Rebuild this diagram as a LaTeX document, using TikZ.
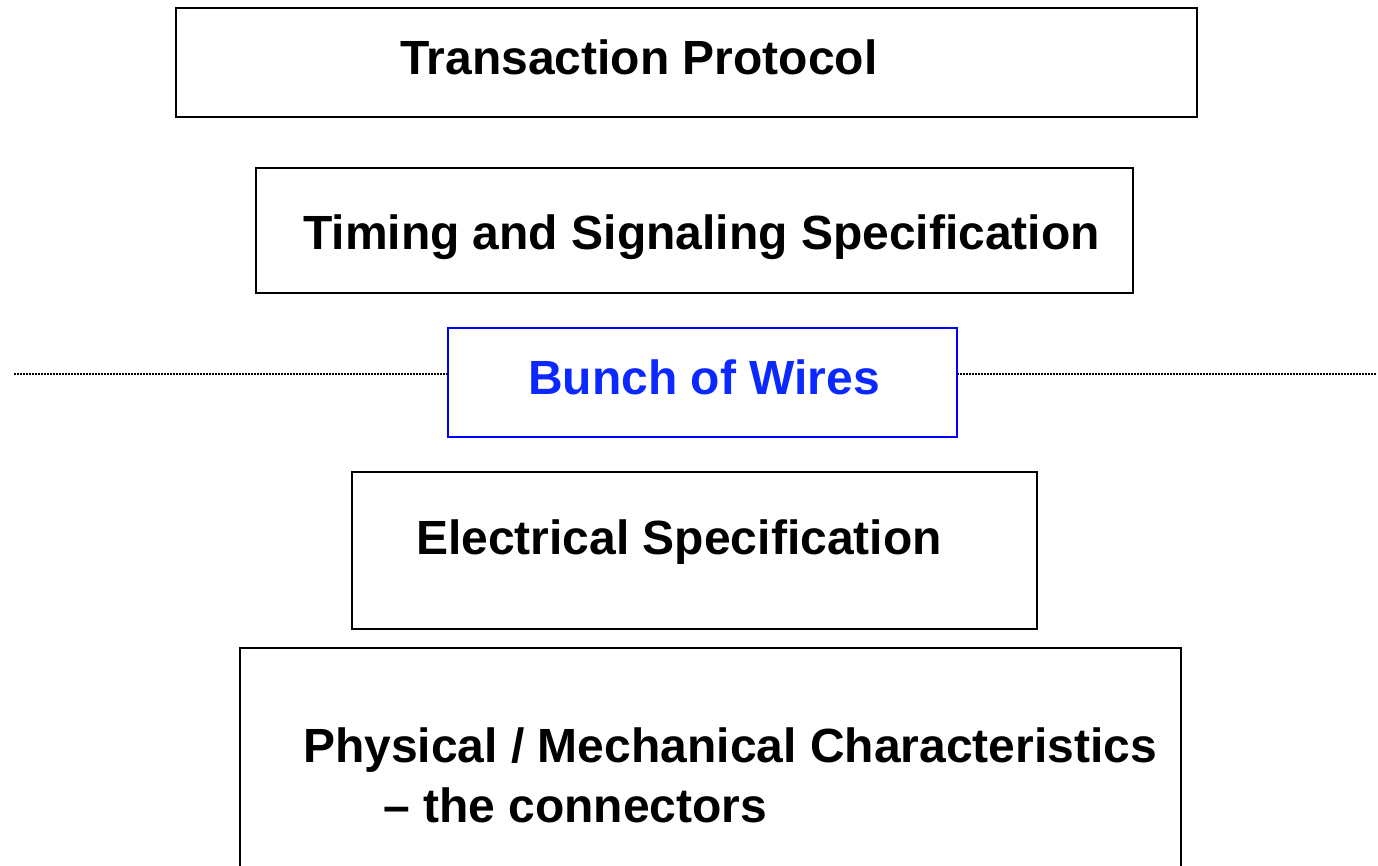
\documentclass[tikz,border=0pt]{standalone}
\usepackage{fontspec}
\setmainfont{Liberation Sans}
\definecolor{wireblue}{RGB}{10,40,255}
\tikzset{
  layerbox/.style={draw,line width=2pt,inner sep=0pt,outer sep=0pt},
  layertext/.style={anchor=base west,inner sep=0pt,font=\fontsize{48}{58}\selectfont\bfseries},
  cut/.style={line width=2pt,dash pattern=on 1.6pt off 1.4pt}
}
\begin{document}
\begin{tikzpicture}[x=1pt,y=-1pt]
  \useasboundingbox (0,0) rectangle (1378,866);
  \clip (0,0) rectangle (1378,866);
  % layers, top to bottom
  \node[layerbox,minimum width=1021pt,minimum height=109pt] (trans) at (686.5,62.5) {};
  \node[layertext] (transt) at (400,75) {Transaction Protocol};
  \node[layerbox,minimum width=877pt,minimum height=125pt] (timing) at (694.5,230.5) {};
  \node[layertext] (timingt) at (303,250) {Timing and Signaling Specification};
  \node[layerbox,draw=blue,minimum width=509pt,minimum height=109pt] (wires) at (702.5,382.5) {};
  \node[layertext,text=wireblue] (wirest) at (528,394) {Bunch of Wires};
  \node[layerbox,minimum width=685pt,minimum height=157pt] (elec) at (694.5,550.5) {};
  \node[layertext] (elect) at (416,554) {Electrical Specification};
  \node[layerbox,minimum width=941pt,minimum height=260pt] (phys) at (710.5,778) {};
  \node[layertext] (physt) at (303,762) {Physical / Mechanical Characteristics};
  \node[layertext] (physu) at (383,822) {-- the connectors};
  % dotted divider
  \coordinate (cutl) at (14,374);
  \coordinate (cutr) at (1376,374);
  \draw[cut] (cutl) -- (wires.west |- cutl);
  \draw[cut] (wires.east |- cutr) -- (cutr);
\end{tikzpicture}
\end{document}
